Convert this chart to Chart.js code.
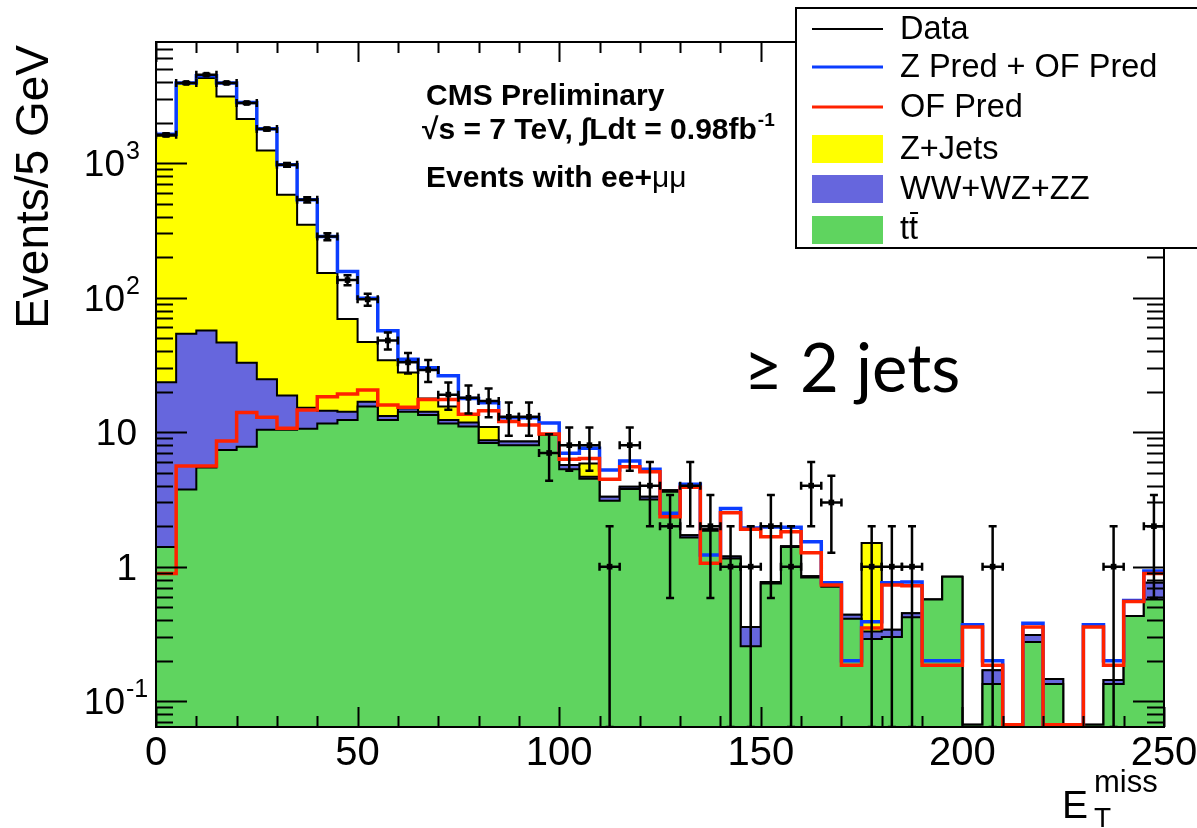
<!DOCTYPE html>
<html>
<head>
<meta charset="utf-8">
<script src="https://cdn.jsdelivr.net/npm/chart.js@4.4.1/dist/chart.umd.min.js"></script>
<style>
    body { margin: 0; background: #fff; }
    #wrap { width: 1197px; height: 828px; }
</style>
</head>
<body>
<div id="wrap"><canvas id="chart" width="1197" height="828"></canvas></div>
<script>
// Binning (5 GeV bins, 0 - 250 GeV)
const BIN_W = 5;
const binLow = [0, 5, 10, 15, 20, 25, 30, 35, 40, 45,
    50, 55, 60, 65, 70, 75, 80, 85, 90, 95,
    100, 105, 110, 115, 120, 125, 130, 135, 140, 145,
    150, 155, 160, 165, 170, 175, 180, 185, 190, 195,
    200, 205, 210, 215, 220, 225, 230, 235, 240, 245];

// Stacked MC
const ttbar = [1.4, 3.75, 5.47, 7.36, 7.8, 10.4, 10.4, 10.6, 11.6, 12.3,
    15.5, 12.3, 14.2, 13.4, 11.6, 11.0, 8.3, 8.0, 8.0, 9.5,
    5.29, 4.5, 3.09, 3.77, 3.16, 3.6, 1.65, 1.85, 1.15, 0.256,
    0.75, 1.40, 0.83, 0.71, 0.41, 0.29, 0.30, 0.42, 0.57, 0.84,
    0, 0.134, 0, 0.276, 0.134, 0, 0, 0.134, 0.43, 0.57];
const diboson = [22.1, 50, 51.4, 39, 25, 14.3, 8.3, 4.6, 2.8, 1.9,
    1.3, 0.9, 0.8, 0.8, 0.7, 0.8, 0.4, 0.5, 0.5, 0.2,
    0.4, 0.15, 0.22, 0.15, 0.15, 0.1, 0.06, 0.05, 0.04, 0.10,
    0.02, 0.02, 0.02, 0.02, 0.03, 0.04, 0.04, 0.03, 0, 0,
    0, 0.036, 0, 0.034, 0.012, 0, 0, 0.01, 0, 0.19];
const zjets = [1572, 3886, 4233, 3084, 2092, 1216, 562, 332, 138, 55,
    30, 21, 12.7, 3.6, 3.2, 1.6, 2.2, 0, 0, 0,
    0, 1.2, 0, 0, 0, 0, 0, 0, 0, 0,
    0, 0, 0, 0, 0, 1.17, 0, 0, 0, 0,
    0, 0, 0, 0, 0, 0, 0, 0, 0, 0];

// Data-driven predictions
const zPredOF = [1640, 3940, 4450, 3940, 2825, 1800, 971, 533, 284, 156,
    99, 56.8, 34.8, 30.1, 26.2, 17.8, 16.5, 12.8, 12.8, 11.7,
    6.96, 7.58, 5.22, 6.1, 5.29, 2.49, 4.1, 1.22, 2.71, 1.94,
    1.97, 1.96, 1.53, 0.76, 0.20, 0.39, 0.76, 0.77, 0.20, 0.20,
    0.37, 0.20, 0, 0.38, 0, 0, 0.37, 0.20, 0.56, 0.93];
const ofPred = [0.89, 5.6, 5.6, 8.6, 14.0, 12.9, 10.7, 14.6, 18.3, 19.2,
    20.6, 15.9, 15.3, 17.5, 17.5, 13.6, 14.4, 12.0, 11.3, 9.7,
    6.28, 6.38, 4.46, 5.53, 5.08, 2.35, 3.9, 1.06, 2.52, 1.9,
    1.67, 1.82, 1.27, 0.73, 0.185, 0.35, 0.73, 0.72, 0.185, 0.185,
    0.356, 0.185, 0, 0.356, 0, 0, 0.356, 0.185, 0.55, 0.89];

// Observed events
const dataCounts = [1620, 3940, 4540, 3940, 2795, 1790, 971, 533, 284, 135,
    97, 48, 33, 29, 19, 18, 17, 13, 13, 7,
    8, 8, 1, 8, 4, 2, 4, 2, 1, 1,
    2, 1, 4, 3, 0, 1, 1, 1, 0, 0,
    0, 1, 0, 0, 0, 0, 0, 1, 0, 2];

// Axis
const X_MIN = 0, X_MAX = 250;
const Y_MIN = 0.0643, Y_MAX = 7940;
const ZERO_LEVEL = Y_MIN * 1.04; // where empty bins sit on the log axis
const xTickValues = [0, 50, 100, 150, 200, 250];
const xTickLabels = ['0', '50', '100', '150', '200', '250'];
const yTickValues = [0.1, 1, 10, 100, 1000];
const yTickLabels = [['10', '-1'], ['1', ''], ['10', ''], ['10', '2'], ['10', '3']];

// Colours
const COL_Z = '#ffff00';
const COL_VV = '#6666dd';
const COL_TT = '#5fd45f';
const COL_BLUE = '#0b3dff';
const COL_RED = '#ff2200';

const FONT = '"Liberation Sans", Arial, sans-serif';

// Helpers
function steps(values) {
    const pts = [];
    values.forEach((v, i) => {
        const y = v > 0 ? v : ZERO_LEVEL;
        pts.push({ x: binLow[i], y }, { x: binLow[i] + BIN_W, y });
    });
    return pts;
}

const vvTop = ttbar.map((v, i) => v + diboson[i]);
const zTop = vvTop.map((v, i) => v + zjets[i]);

const dataPoints = dataCounts.map((n, i) => ({ x: binLow[i] + BIN_W / 2, y: n > 0 ? n : null }));

function stackSet(label, values, color, order) {
    return {
        label,
        data: steps(values),
        borderColor: '#000',
        borderWidth: 2,
        backgroundColor: color,
        fill: 'start',
        pointRadius: 0,
        tension: 0,
        order
    };
}

function lineSet(label, values, color, order) {
    return {
        label,
        data: steps(values),
        borderColor: color,
        borderWidth: 3.5,
        fill: false,
        pointRadius: 0,
        tension: 0,
        order
    };
}

// Error bars for the data points
const errorBars = {
    id: 'errorBars',
    afterDatasetsDraw(chart) {
        const { ctx, chartArea: ca } = chart;
        const xs = chart.scales.x, ys = chart.scales.y;
        ctx.save();
        ctx.beginPath();
        ctx.rect(ca.left, ca.top, ca.right - ca.left, ca.bottom - ca.top);
        ctx.clip();
        ctx.strokeStyle = '#000';
        ctx.lineWidth = 2.5;
        const cap = 4;
        dataCounts.forEach((n, i) => {
            if (n <= 0) return;
            const err = Math.sqrt(n);
            const px = xs.getPixelForValue(binLow[i] + BIN_W / 2);
            const py = ys.getPixelForValue(n);
            const x0 = xs.getPixelForValue(binLow[i]);
            const x1 = xs.getPixelForValue(binLow[i] + BIN_W);
            const yHi = ys.getPixelForValue(n + err);
            const yLo = n - err > 0 ? ys.getPixelForValue(n - err) : ca.bottom;
            ctx.beginPath();
            ctx.moveTo(px, yHi); ctx.lineTo(px, yLo);
            ctx.moveTo(x0, py); ctx.lineTo(x1, py);
            ctx.moveTo(px - cap, yHi); ctx.lineTo(px + cap, yHi);
            ctx.moveTo(px - cap, yLo); ctx.lineTo(px + cap, yLo);
            ctx.moveTo(x0, py - cap); ctx.lineTo(x0, py + cap);
            ctx.moveTo(x1, py - cap); ctx.lineTo(x1, py + cap);
            ctx.stroke();
        });
        ctx.restore();
    }
};

// Frame, ticks, labels, legend and captions (ROOT style)
const decorations = {
    id: 'decorations',
    afterDraw(chart) {
        const { ctx, chartArea: ca } = chart;
        const xs = chart.scales.x, ys = chart.scales.y;
        ctx.save();
        ctx.strokeStyle = '#000';
        ctx.fillStyle = '#000';
        ctx.lineWidth = 2;

        // y ticks (left and right)
        ctx.beginPath();
        for (let e = -2; e <= 4; e++) {
            for (let m = 1; m <= 9; m++) {
                const v = m * Math.pow(10, e);
                if (v < Y_MIN || v > Y_MAX) continue;
                const py = Math.round(ys.getPixelForValue(v)) + 0.5;
                const len = m === 1 ? 31 : 17;
                ctx.moveTo(ca.left, py); ctx.lineTo(ca.left + len, py);
                ctx.moveTo(ca.right, py); ctx.lineTo(ca.right - len, py);
            }
        }
        // x ticks (bottom and top)
        for (let v = X_MIN; v <= X_MAX; v += 10) {
            const px = Math.round(xs.getPixelForValue(v)) + 0.5;
            const len = v % 50 === 0 ? 20 : 11;
            ctx.moveTo(px, ca.bottom); ctx.lineTo(px, ca.bottom - len);
            ctx.moveTo(px, ca.top); ctx.lineTo(px, ca.top + len);
        }
        ctx.stroke();
        ctx.strokeRect(ca.left, ca.top, ca.right - ca.left, ca.bottom - ca.top);

        // x tick labels
        ctx.font = '40px ' + FONT;
        ctx.textAlign = 'center';
        ctx.textBaseline = 'alphabetic';
        xTickValues.forEach((v, i) => {
            ctx.fillText(xTickLabels[i], xs.getPixelForValue(v), 765);
        });

        // y tick labels with exponents
        ctx.textAlign = 'left';
        yTickValues.forEach((v, i) => {
            const [base, exp] = yTickLabels[i];
            const py = ys.getPixelForValue(v);
            ctx.font = '37px ' + FONT;
            const wb = ctx.measureText(base).width;
            const right = exp ? 125 : 137;
            ctx.fillText(base, right - wb, py + 13);
            if (exp) {
                ctx.font = '25px ' + FONT;
                ctx.fillText(exp, right + 1, py - 4);
            }
        });

        // axis titles
        ctx.save();
        ctx.translate(48, 45);
        ctx.rotate(-Math.PI / 2);
        ctx.textAlign = 'right';
        ctx.font = '46px ' + FONT;
        ctx.fillText('Events/5 GeV', 0, 0);
        ctx.restore();

        ctx.textAlign = 'left';
        ctx.font = '39px ' + FONT;
        ctx.fillText('E', 1062, 818);
        ctx.font = '31px ' + FONT;
        ctx.fillText('miss', 1094, 792);
        ctx.font = '28px ' + FONT;
        ctx.fillText('T', 1094, 827);

        // CMS caption
        ctx.font = 'bold 30px ' + FONT;
        ctx.fillText('CMS Preliminary', 426, 105);
        const l2 = '\u221As = 7 TeV, \u222BLdt = 0.98fb';
        ctx.fillText(l2, 422, 139);
        const w2 = ctx.measureText(l2).width;
        ctx.font = 'bold 19px ' + FONT;
        ctx.fillText('-1', 422 + w2 + 1, 126);
        ctx.font = 'bold 30px ' + FONT;
        const l3 = 'Events with ee+';
        ctx.fillText(l3, 426, 187);
        const w3 = ctx.measureText(l3).width;
        ctx.font = '30px ' + FONT;
        ctx.fillText('\u03BC\u03BC', 426 + w3, 187);

        // jet multiplicity
        ctx.font = '67px Lato, "Open Sans", sans-serif';
        ctx.fillText('\u2265 2 jets', 744, 392);

        // legend
        const lx = 796, ly = 8;
        ctx.fillStyle = '#fff';
        ctx.fillRect(lx, ly, 430, 240);
        ctx.strokeRect(lx, ly, 430, 240);
        const lines = [['#000', 2, 29], [COL_BLUE, 3, 67], [COL_RED, 3, 107]];
        lines.forEach(([color, w, y]) => {
            ctx.strokeStyle = color;
            ctx.lineWidth = w;
            ctx.beginPath();
            ctx.moveTo(812, y); ctx.lineTo(883, y);
            ctx.stroke();
        });
        const boxes = [[COL_Z, 135], [COL_VV, 175], [COL_TT, 216]];
        boxes.forEach(([color, y]) => {
            ctx.fillStyle = color;
            ctx.fillRect(812, y, 71, 28);
        });
        ctx.fillStyle = '#000';
        ctx.font = '32.5px ' + FONT;
        ctx.textBaseline = 'middle';
        const labels = [['Data', 30], ['Z Pred + OF Pred', 68], ['OF Pred', 108], ['Z+Jets', 150], ['WW+WZ+ZZ', 190], ['tt', 230]];
        labels.forEach(([text, y]) => ctx.fillText(text, 900, y));
        // bar over the second t
        const wt = ctx.measureText('t').width;
        ctx.strokeStyle = '#000';
        ctx.lineWidth = 2;
        ctx.beginPath();
        ctx.moveTo(900 + wt + 1, 213); ctx.lineTo(900 + 2 * wt, 213);
        ctx.stroke();
        ctx.restore();
    }
};

const ctx = document.getElementById('chart').getContext('2d');
new Chart(ctx, {
    type: 'line',
    data: {
        datasets: [
            stackSet('Z+Jets', zTop, COL_Z, 6),
            stackSet('WW+WZ+ZZ', vvTop, COL_VV, 5),
            stackSet('ttbar', ttbar, COL_TT, 4),
            lineSet('Z Pred + OF Pred', zPredOF, COL_BLUE, 3),
            lineSet('OF Pred', ofPred, COL_RED, 2),
            {
                label: 'Data',
                data: dataPoints,
                showLine: false,
                pointStyle: 'rect',
                pointRadius: 4,
                pointBackgroundColor: '#000',
                pointBorderColor: '#000',
                pointBorderWidth: 0,
                order: 1
            }
        ]
    },
    options: {
        responsive: false,
        animation: false,
        devicePixelRatio: 1,
        layout: { padding: { left: 156, right: 33, top: 42, bottom: 101 } },
        scales: {
            x: { type: 'linear', min: X_MIN, max: X_MAX, display: false },
            y: { type: 'logarithmic', min: Y_MIN, max: Y_MAX, display: false }
        },
        plugins: {
            legend: { display: false },
            tooltip: { enabled: false }
        }
    },
    plugins: [errorBars, decorations]
});
</script>
</body>
</html>
